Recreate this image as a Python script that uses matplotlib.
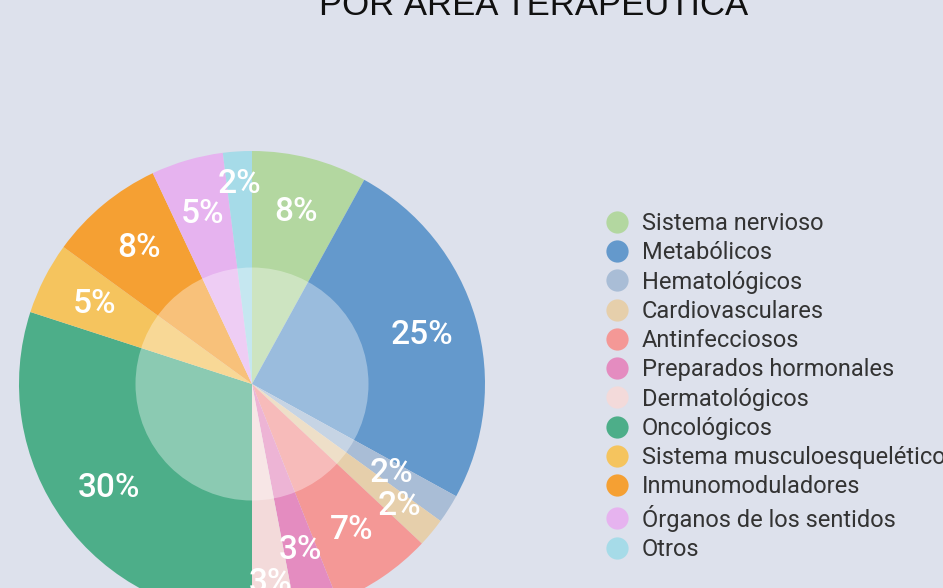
import numpy as np
import matplotlib.pyplot as plt
from matplotlib.lines import Line2D
from matplotlib.patches import Circle

# Data
areas = ["Sistema nervioso", "Metabólicos", "Hematológicos", "Cardiovasculares",
         "Antinfecciosos", "Preparados hormonales", "Dermatológicos", "Oncológicos",
         "Sistema musculoesquelético", "Inmunomoduladores", "Órganos de los sentidos", "Otros"]
shares = [8, 25, 2, 2, 7, 3, 3, 30, 5, 8, 5, 2]
colors = ["#b3d7a0", "#6499cc", "#a9bdd6", "#e6cfab", "#f49896", "#e48cc0",
          "#f3dada", "#4dae89", "#f5c45e", "#f5a033", "#e6b3ef", "#a6dbe8"]

# radial position of each percentage label (small slices pushed apart)
label_r = [0.76, 0.76, 0.71, 0.82, 0.76, 0.74, 0.86, 0.76, 0.76, 0.76, 0.76, 0.86]

bg = "#dde1ec"
plt.rcParams['font.family'] = ['Roboto', 'DejaVu Sans']

fig = plt.figure(figsize=(9.43, 5.88), dpi=100, facecolor=bg)

# pie axes (partly below the figure bottom, like the original)
ax = fig.add_axes([19 / 943, (588 - 617) / 588, 466 / 943, 466 / 588])
ax.set_facecolor(bg)
wedges, texts, autotexts = ax.pie(
    shares, colors=colors, startangle=90, counterclock=False,
    autopct="%d%%", pctdistance=0.76, radius=1,
    wedgeprops=dict(linewidth=0),
    textprops=dict(color="white", fontsize=24, fontweight="medium"))
for w, t, r in zip(wedges, autotexts, label_r):
    ang = np.deg2rad((w.theta1 + w.theta2) / 2)
    t.set_position((r * np.cos(ang), r * np.sin(ang)))
    t.set_zorder(5)
ax.add_patch(Circle((0, 0), 0.5, facecolor="white", alpha=0.35, linewidth=0, zorder=3))
ax.set_xlim(-1, 1)
ax.set_ylim(-1, 1)
ax.set_aspect("equal")
ax.axis("off")

# title (cut off at the top)
fig.text(534 / 943, 1 - 15 / 588, "POR ÁREA TERAPÉUTICA", family="Liberation Sans",
         fontsize=25, color="#111111", ha="center", va="baseline")

# legend
handles = [Line2D([], [], marker="o", linestyle="none", markersize=16,
                  markerfacecolor=c, markeredgewidth=0) for c in colors]
fig.legend(handles, areas, loc="upper left", bbox_to_anchor=(605 / 943, 1 - 212 / 588),
           frameon=False, fontsize=17, labelspacing=0.265, handletextpad=0.55,
           handlelength=1.0, borderpad=0, borderaxespad=0, labelcolor="#333333")

plt.savefig("out.png", dpi=100, facecolor=bg)
